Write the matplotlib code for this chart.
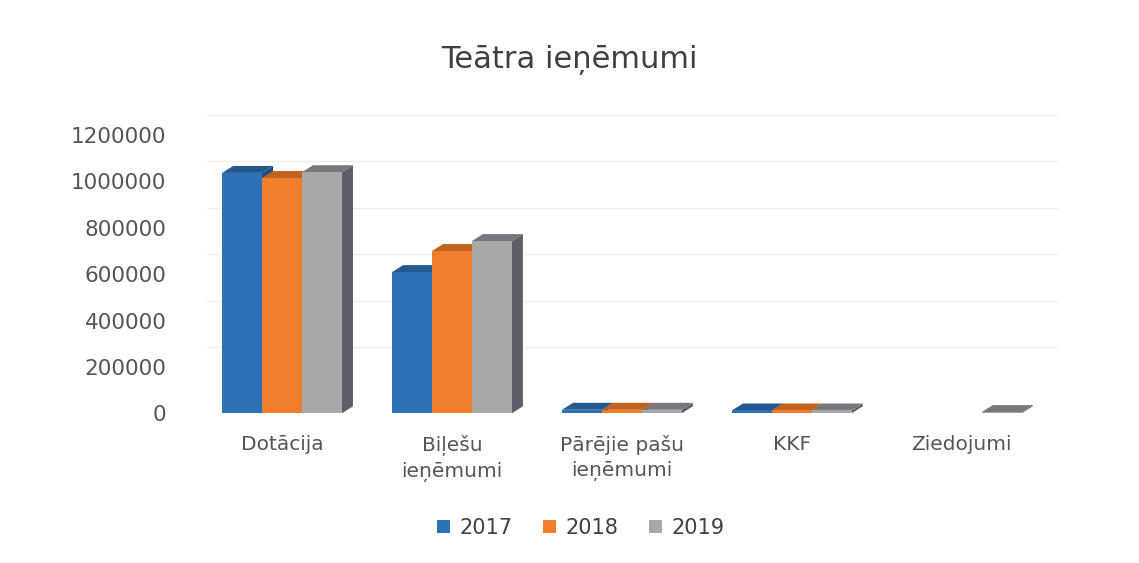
import matplotlib

matplotlib.use("Agg")
import matplotlib.pyplot as plt
import matplotlib.transforms as mtransforms
import numpy as np
from matplotlib.patches import Polygon, Patch

plt.rcParams["font.family"] = ["DejaVu Sans"]

categories = ["Dotācija", "Biļešu\nieņēmumi", "Pārējie pašu\nieņēmumi", "KKF", "Ziedojumi"]
years = ["2017", "2018", "2019"]
v2017 = [1037000, 609000, 15000, 12000, 0]
v2018 = [1015000, 700000, 15000, 12000, 0]
v2019 = [1040000, 743000, 15000, 12000, 5000]
colors = ["#2E70B6", "#EE7D2C", "#A8A8A8"]
side_colors = ["#1F4F82", "#A8561C", "#5E5E66"]
top_colors = ["#24598F", "#C2621F", "#77777E"]

fig = plt.figure(figsize=(11.39, 5.63), dpi=100)
ax = fig.add_axes([0.173, 0.266, 0.746, 0.494])

x = np.arange(len(categories))
w = 0.235
dx, dy = 0.065, 30000
series = [v2017, v2018, v2019]

for j, vals in enumerate(series):
    for i, v in enumerate(vals):
        if v <= 0:
            continue
        xc = x[i] + (j - 1) * w
        x0, x1 = xc - w / 2, xc + w / 2
        side = Polygon([(x1, 0), (x1 + dx, dy), (x1 + dx, v + dy), (x1, v)],
                       closed=True, facecolor=side_colors[j], edgecolor="none", zorder=3 + j)
        top = Polygon([(x0, v), (x0 + dx, v + dy), (x1 + dx, v + dy), (x1, v)],
                      closed=True, facecolor=top_colors[j], edgecolor="none", zorder=3 + j)
        ax.add_patch(side)
        ax.add_patch(top)
        ax.bar(xc, v, w, color=colors[j], zorder=3 + j, linewidth=0)

ax.set_xlim(-0.5, len(categories) - 0.5)
ax.set_ylim(0, 1200000)
yticks = np.arange(0, 1200001, 200000)
ax.set_yticks(yticks)
ax.set_yticklabels([f"{t:d}" for t in yticks])
ax.set_xticks(x)
ax.set_xticklabels(categories, linespacing=1.4)

# faint gridlines on the back wall (shifted up/right like the 3D chart)
back = mtransforms.ScaledTranslation(10 / 100, 20 / 100, fig.dpi_scale_trans)
gtrans = ax.get_yaxis_transform() + back
for t in yticks[1:]:
    ax.plot([0, 1], [t, t], color="#EEEEEE", linewidth=1, zorder=1, clip_on=False,
            transform=gtrans)

for s in ax.spines.values():
    s.set_visible(False)
ax.tick_params(length=0, labelsize=14.5, labelcolor="#555555")
ax.tick_params(axis="x", pad=16)
ax.tick_params(axis="y", pad=22, labelsize=15.5)

fig.suptitle("Teātra ieņēmumi", y=0.92, fontsize=22, color="#404040")

handles = [Patch(facecolor=c, label=yr) for c, yr in zip(colors, years)]
fig.legend(handles=handles, loc="center", bbox_to_anchor=(0.51, 0.063), ncol=3,
           frameon=False, fontsize=15, handlelength=0.6, handleheight=0.6,
           handletextpad=0.45, columnspacing=1.5, labelcolor="#404040")

fig.savefig("out.png", dpi=100)
